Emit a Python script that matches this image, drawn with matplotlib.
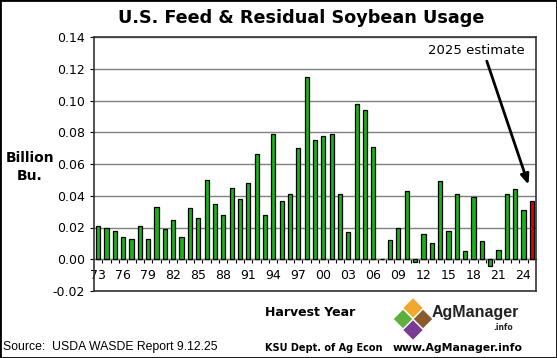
import matplotlib
matplotlib.use("Agg")
import matplotlib.pyplot as plt
from matplotlib.patches import Polygon, Rectangle
from matplotlib.ticker import MultipleLocator, FormatStrFormatter

# feed & residual use, billion bushels, harvest years 1973-2025
years = list(range(1973, 2026))
usage = [0.021, 0.020, 0.018, 0.014, 0.013, 0.021, 0.013, 0.033, 0.019, 0.025,
         0.014, 0.032, 0.026, 0.050, 0.035, 0.028, 0.045, 0.038, 0.048, 0.066,
         0.028, 0.079, 0.037, 0.041, 0.070, 0.115, 0.075, 0.0775, 0.079, 0.041,
         0.017, 0.098, 0.094, 0.071, 0.0, 0.012, 0.020, 0.043, -0.002, 0.016,
         0.010, 0.049, 0.018, 0.041, 0.0054, 0.039, 0.0115, -0.004, 0.006, 0.041,
         0.044, 0.031, 0.037]
label_years = list(range(1973, 2026, 3))
tick_labels = ["%02d" % (y % 100) for y in label_years]

W, H = 557, 358
fig = plt.figure(figsize=(W / 100, H / 100), dpi=100)

def fx(px):
    return px / W

def fy(py):
    return 1 - py / H

ax = fig.add_axes([fx(94), fy(291), fx(536) - fx(94), fy(37) - fy(291)])

colors = ["#19B219"] * (len(years) - 1) + ["#E00000"]
ax.bar(years, usage, width=0.5, color=colors, edgecolor="black", linewidth=0.9, zorder=3)

ax.set_xlim(1972.5, 2025.5)
ax.set_ylim(-0.02, 0.14)
ax.yaxis.set_major_locator(MultipleLocator(0.02))
ax.yaxis.set_major_formatter(FormatStrFormatter("%.2f"))
ax.tick_params(axis="y", labelsize=9, length=3, width=0.8)
ax.grid(axis="y", color="#808080", linewidth=1.0, zorder=0)
ax.set_xticks([])
for s in ax.spines.values():
    s.set_linewidth(1.2)
    s.set_color("#333333")

# year axis drawn on the zero line
zero_frac = 0.02 / 0.16
sec = ax.secondary_xaxis(zero_frac)
sec.set_xticks(label_years)
sec.set_xticklabels(tick_labels)
sec.set_xticks([y + 0.5 for y in years[:-1]], minor=True)
sec.tick_params(axis="x", which="major", length=0, labelsize=9, pad=7)
sec.tick_params(axis="x", which="minor", length=3, width=0.8)
sec.spines["bottom"].set_linewidth(1.0)
sec.spines["bottom"].set_color("#555555")

# annotation
ax.text(2018.4, 0.1318, "2025 estimate", ha="center", va="center", fontsize=9.5)
ax.annotate("", xy=(2024.6, 0.047), xytext=(2019.6, 0.1248),
            arrowprops=dict(arrowstyle="-|>,head_width=0.25,head_length=0.6",
                            color="black", lw=2, shrinkA=0, shrinkB=0))

fig.text(fx(301), fy(18), "U.S. Feed & Residual Soybean Usage", ha="center", va="center",
         fontsize=12.7, fontweight="bold")
fig.text(fx(30), fy(167), "Billion\nBu.", ha="center", va="center", fontsize=10,
         fontweight="bold", linespacing=1.3)
fig.text(fx(310), fy(313), "Harvest Year", ha="center", va="center", fontsize=9,
         fontweight="bold")
fig.text(fx(3), fy(347), "Source:  USDA WASDE Report 9.12.25", ha="left", va="center",
         fontsize=8.8, family="Liberation Sans")
fig.text(fx(265), fy(348), "KSU Dept. of Ag Econ", ha="left", va="center", fontsize=7.0,
         fontweight="bold")
fig.text(fx(393), fy(348), "www.AgManager.info", ha="left", va="center", fontsize=7.8,
         fontweight="bold")

# logo
cx, cy, d = 413, 319, 11
def diamond(x0, y0, r, color):
    pts = [(fx(x0), fy(y0 - r)), (fx(x0 + r), fy(y0)), (fx(x0), fy(y0 + r)), (fx(x0 - r), fy(y0))]
    fig.patches.append(Polygon(pts, closed=True, transform=fig.transFigure,
                               facecolor=color, edgecolor="white", linewidth=0.8))

diamond(cx, cy - d, 10.5, "#F2A72E")
diamond(cx - d + 1, cy, 10, "#5DAF3E")
diamond(cx + d - 1, cy, 10, "#8A5A2E")
diamond(cx, cy + d, 10.5, "#7A3C93")
fig.text(fx(432), fy(313), "AgManager", ha="left", va="center", fontsize=11.5,
         fontweight="bold", color="#222222", family="Liberation Sans")
fig.text(fx(513), fy(327), ".info", ha="right", va="center", fontsize=5.5,
         fontweight="bold", color="#222222")

fig.patches.append(Rectangle((0, 0), 1, 1, transform=fig.transFigure, fill=False,
                             edgecolor="black", linewidth=2))

fig.savefig("out.png", dpi=100)
